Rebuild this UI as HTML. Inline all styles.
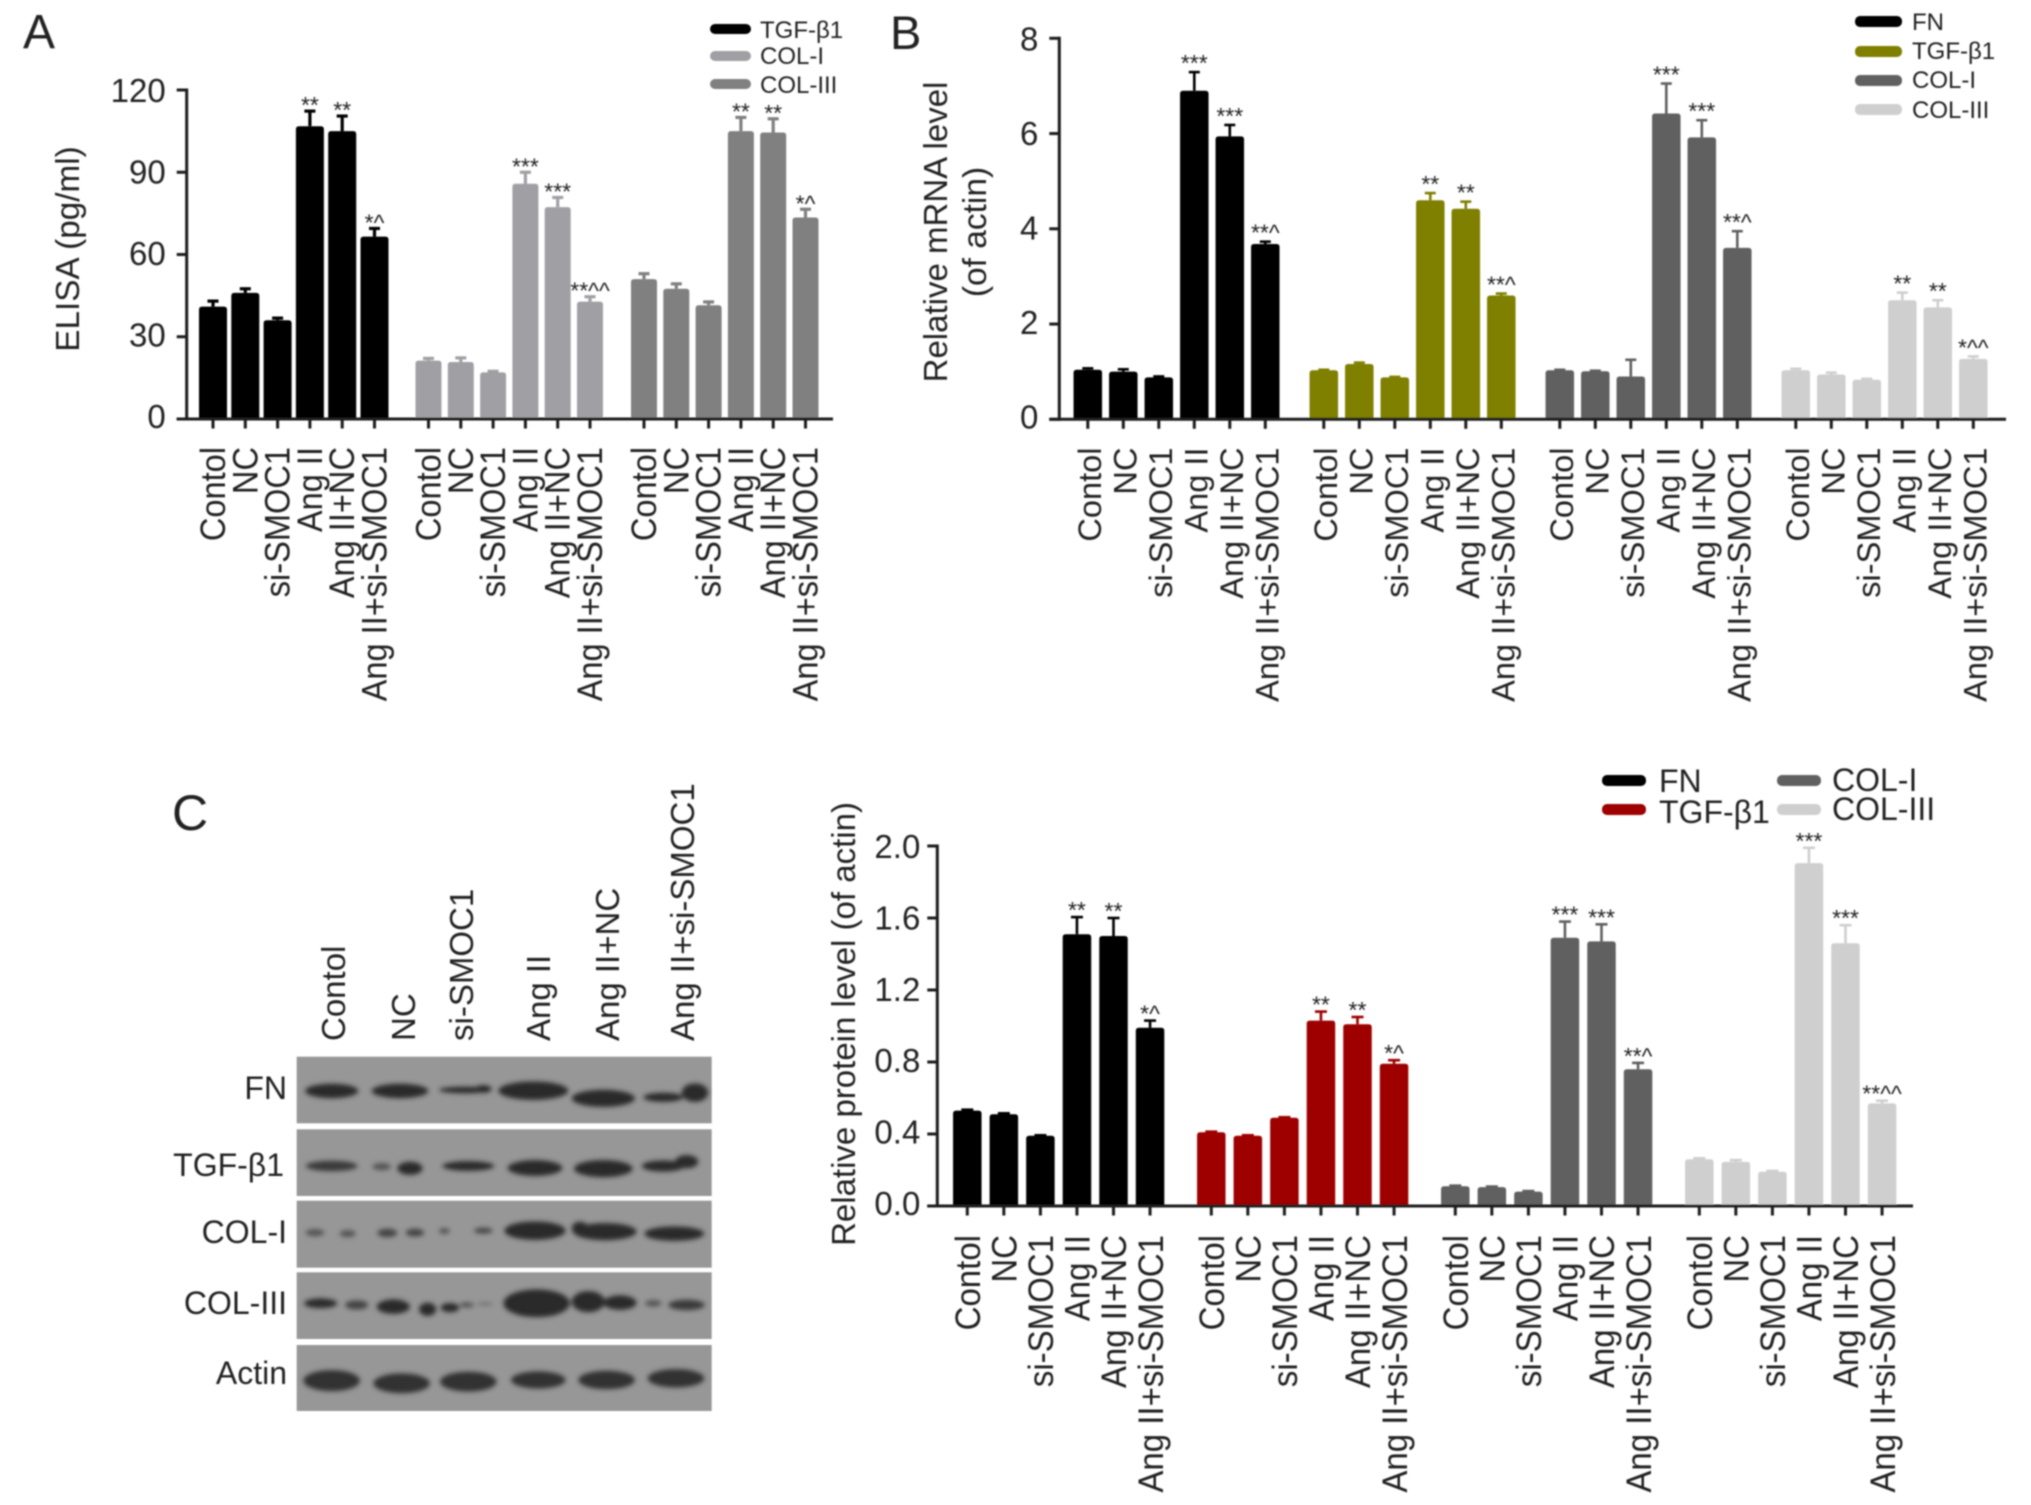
<!DOCTYPE html>
<html lang="en">
<head>
<meta charset="utf-8">
<title>SMOC1 knockdown ELISA, mRNA and protein levels</title>
<style>
html,body{margin:0;padding:0;background:#fff}
svg{display:block}
text{font-family:"Liberation Sans",Arial,sans-serif;fill:#222}
</style>
</head>
<body>
<svg id="figure" xmlns="http://www.w3.org/2000/svg" width="2031" height="1505" viewBox="0 0 2031 1505">
<defs>
<filter id="soft" x="-5%" y="-5%" width="110%" height="110%"><feGaussianBlur stdDeviation="0.8"/></filter>
<filter id="bandBlur" x="-30%" y="-60%" width="160%" height="220%"><feGaussianBlur stdDeviation="7"/></filter>
</defs>
<rect width="2031" height="1505" fill="#fff"/>

<g id="content" filter="url(#soft)">
<text x="23" y="48" font-size="48">A</text>
<text x="890" y="49" font-size="47">B</text>
<text x="172" y="830" font-size="50">C</text>

<text transform="translate(79 249) rotate(-90)" text-anchor="middle" font-size="33.3">ELISA (pg/ml)</text>
<text transform="translate(947 232) rotate(-90)" text-anchor="middle" font-size="33">Relative mRNA level</text>
<text transform="translate(986 232) rotate(-90)" text-anchor="middle" font-size="33.5">(of actin)</text>
<text transform="translate(855 1024) rotate(-90)" text-anchor="middle" font-size="33">Relative protein level (of actin)</text>

<g font-size="24">
<rect x="710" y="24" width="41" height="10" rx="5" fill="#000"/>
<text x="760" y="38">TGF-β1</text>
<rect x="710" y="51" width="41" height="10" rx="5" fill="#a0a0a4"/>
<text x="760" y="64">COL-I</text>
<rect x="710" y="79" width="41" height="10" rx="5" fill="#808080"/>
<text x="760" y="93">COL-III</text>
</g>
<g font-size="24">
<rect x="1855" y="16" width="47" height="11" rx="5" fill="#000"/>
<text x="1912" y="30">FN</text>
<rect x="1855" y="46" width="47" height="11" rx="5" fill="#7f7f00"/>
<text x="1912" y="59">TGF-β1</text>
<rect x="1855" y="75" width="47" height="11" rx="5" fill="#606060"/>
<text x="1912" y="88">COL-I</text>
<rect x="1855" y="104" width="47" height="11" rx="5" fill="#cfcfcf"/>
<text x="1912" y="118">COL-III</text>
</g>
<g font-size="32">
<rect x="1602" y="775" width="44" height="11" rx="5" fill="#000"/>
<text x="1659" y="792">FN</text>
<rect x="1602" y="804" width="44" height="11" rx="5" fill="#9e0000"/>
<text x="1659" y="823">TGF-β1</text>
<rect x="1777" y="775" width="44" height="11" rx="5" fill="#606060"/>
<text x="1832" y="791">COL-I</text>
<rect x="1777" y="804" width="44" height="11" rx="5" fill="#cfcfcf"/>
<text x="1832" y="820">COL-III</text>
</g>

<g>
<g font-size="33" text-anchor="start">
<text transform="translate(345 1041) rotate(-90)">Contol</text>
<text transform="translate(415 1041) rotate(-90)">NC</text>
<text transform="translate(473 1041) rotate(-90)">si-SMOC1</text>
<text transform="translate(550 1041) rotate(-90)">Ang II</text>
<text transform="translate(619 1041) rotate(-90)">Ang II+NC</text>
<text transform="translate(694 1041) rotate(-90)">Ang II+si-SMOC1</text>
</g>
<g font-size="32" text-anchor="end">
<text x="287" y="1099">FN</text>
<text x="284" y="1176">TGF-β1</text>
<text x="287" y="1243">COL-I</text>
<text x="287" y="1314">COL-III</text>
<text x="287" y="1384">Actin</text>
</g>
<g fill="#979797">
<rect x="296.7" y="1056.7" width="415" height="66.6"/>
<rect x="296.7" y="1129.3" width="415" height="66.7"/>
<rect x="296.7" y="1200.7" width="415" height="67"/>
<rect x="296.7" y="1272.3" width="415" height="66.7"/>
<rect x="296.7" y="1345" width="415" height="66"/>
</g>
<g transform="translate(280 1040) scale(0.3333)" fill="#2b2b2b" filter="url(#bandBlur)">
<g>
<ellipse cx="155" cy="153" rx="80" ry="22"/><ellipse cx="360" cy="153" rx="85" ry="22"/><ellipse cx="555" cy="150" rx="78" ry="10"/><ellipse cx="610" cy="147" rx="25" ry="12"/><ellipse cx="760" cy="152" rx="105" ry="28"/><ellipse cx="970" cy="175" rx="95" ry="26"/><ellipse cx="1150" cy="172" rx="60" ry="14"/><ellipse cx="1245" cy="158" rx="40" ry="28"/>
</g>
<g>
<ellipse cx="155" cy="378" rx="78" ry="16" fill="#3a3a3a"/><ellipse cx="305" cy="380" rx="28" ry="11" fill="#555"/><ellipse cx="390" cy="385" rx="38" ry="20"/><ellipse cx="565" cy="378" rx="78" ry="15"/><ellipse cx="765" cy="384" rx="82" ry="24"/><ellipse cx="970" cy="386" rx="88" ry="26"/><ellipse cx="1150" cy="378" rx="65" ry="17"/><ellipse cx="1220" cy="365" rx="35" ry="20"/>
</g>
<g>
<ellipse cx="105" cy="578" rx="28" ry="11" fill="#555"/><ellipse cx="203" cy="581" rx="24" ry="11" fill="#555"/><ellipse cx="322" cy="579" rx="30" ry="13" fill="#444"/><ellipse cx="405" cy="578" rx="28" ry="12" fill="#444"/><ellipse cx="493" cy="573" rx="17" ry="9" fill="#555"/><ellipse cx="610" cy="572" rx="28" ry="9" fill="#444"/><ellipse cx="765" cy="572" rx="92" ry="28"/><ellipse cx="975" cy="575" rx="95" ry="26"/><ellipse cx="900" cy="565" rx="25" ry="20"/><ellipse cx="1183" cy="581" rx="90" ry="22"/>
</g>
<g>
<ellipse cx="122" cy="790" rx="50" ry="15"/><ellipse cx="230" cy="795" rx="35" ry="14" fill="#444"/><ellipse cx="340" cy="800" rx="50" ry="22"/><ellipse cx="443" cy="808" rx="26" ry="20"/><ellipse cx="510" cy="803" rx="28" ry="14"/><ellipse cx="560" cy="795" rx="22" ry="8" fill="#555"/><ellipse cx="615" cy="792" rx="25" ry="4" fill="#666"/><ellipse cx="770" cy="790" rx="100" ry="42"/><ellipse cx="925" cy="785" rx="50" ry="32"/><ellipse cx="1020" cy="788" rx="50" ry="22"/><ellipse cx="1120" cy="790" rx="25" ry="10" fill="#555"/><ellipse cx="1220" cy="795" rx="55" ry="16" fill="#3a3a3a"/>
</g>
<g fill="#333">
<ellipse cx="155" cy="1022" rx="85" ry="32"/><ellipse cx="365" cy="1030" rx="85" ry="30"/><ellipse cx="565" cy="1025" rx="85" ry="30"/><ellipse cx="775" cy="1020" rx="82" ry="26"/><ellipse cx="980" cy="1020" rx="85" ry="28"/><ellipse cx="1188" cy="1015" rx="85" ry="28"/>
</g>
</g>
</g>
<g id="charts"></g>
</g>
</svg>

<script>
// ---- shared categories ----
const categories = ['Contol', 'NC', 'si-SMOC1', 'Ang II', 'Ang II+NC', 'Ang II+si-SMOC1'];

// ---- panel A: ELISA (pg/ml) ----
const panelATicks = [0, 30, 60, 90, 120];
const panelATickLabels = ['0', '30', '60', '90', '120'];
const panelATgfValues = [41, 46, 36, 106.8, 105, 66.5];
const panelATgfErrors = [2, 1.5, 0.8, 5.5, 5.5, 3];
const panelATgfMarks = ['', '', '', '**', '**', '*^'];
const panelACol1Values = [21.3, 20.8, 17, 85.8, 77.3, 42.8];
const panelACol1Errors = [0.8, 1.5, 0.4, 4.2, 3.5, 1.8];
const panelACol1Marks = ['', '', '', '***', '***', '**^^'];
const panelACol3Values = [51, 47.5, 41.5, 105, 104.5, 73.5];
const panelACol3Errors = [2, 1.8, 1.2, 5, 5, 3];
const panelACol3Marks = ['', '', '', '**', '**', '*^'];

// ---- panel B: relative mRNA level ----
const panelBTicks = [0, 2, 4, 6, 8];
const panelBTickLabels = ['0', '2', '4', '6', '8'];
const panelBFnValues = [1.04, 1.0, 0.88, 6.9, 5.94, 3.68];
const panelBFnErrors = [0.03, 0.05, 0.02, 0.39, 0.24, 0.05];
const panelBFnMarks = ['', '', '', '***', '***', '**^'];
const panelBTgfValues = [1.03, 1.16, 0.88, 4.6, 4.42, 2.6];
const panelBTgfErrors = [0.01, 0.03, 0.01, 0.15, 0.15, 0.04];
const panelBTgfMarks = ['', '', '', '**', '**', '**^'];
const panelBCol1Values = [1.03, 1.01, 0.9, 6.42, 5.92, 3.6];
const panelBCol1Errors = [0.01, 0.01, 0.35, 0.63, 0.36, 0.35];
const panelBCol1Marks = ['', '', '', '***', '***', '**^'];
const panelBCol3Values = [1.03, 0.94, 0.83, 2.5, 2.35, 1.27];
const panelBCol3Errors = [0.03, 0.04, 0.02, 0.16, 0.15, 0.05];
const panelBCol3Marks = ['', '', '', '**', '**', '*^^'];

// ---- panel C: relative protein level ----
const panelCTicks = [0, 0.4, 0.8, 1.2, 1.6, 2];
const panelCTickLabels = ['0.0', '0.4', '0.8', '1.2', '1.6', '2.0'];
const panelCFnValues = [0.53, 0.51, 0.39, 1.51, 1.5, 0.99];
const panelCFnErrors = [0.005, 0.005, 0.003, 0.095, 0.1, 0.04];
const panelCFnMarks = ['', '', '', '**', '**', '*^'];
const panelCTgfValues = [0.41, 0.39, 0.49, 1.03, 1.01, 0.79];
const panelCTgfErrors = [0.003, 0.003, 0.003, 0.05, 0.04, 0.02];
const panelCTgfMarks = ['', '', '', '**', '**', '*^'];
const panelCCol1Values = [0.11, 0.105, 0.08, 1.49, 1.47, 0.76];
const panelCCol1Errors = [0.003, 0.003, 0.003, 0.09, 0.095, 0.035];
const panelCCol1Marks = ['', '', '', '***', '***', '**^'];
const panelCCol3Values = [0.26, 0.245, 0.19, 1.905, 1.46, 0.57];
const panelCCol3Errors = [0.005, 0.01, 0.005, 0.085, 0.1, 0.015];
const panelCCol3Marks = ['', '', '', '***', '***', '**^^'];

const SVG_NS = 'http://www.w3.org/2000/svg';
const chartsRoot = document.getElementById('charts');

function make(tag, parent, attrs, text) {
  const node = document.createElementNS(SVG_NS, tag);
  Object.keys(attrs).forEach(function (k) { node.setAttribute(k, attrs[k]); });
  if (text !== undefined) node.textContent = text;
  parent.appendChild(node);
  return node;
}

function drawPanel(panel) {
  const group = make('g', chartsRoot, {});
  
  

  const yMax = panel.ticks[panel.ticks.length - 1];
  const yScale = function (v) { return panel.y0 - (v / yMax) * (panel.y0 - panel.yTop); };
  const xScale = function (s, c) { return panel.firstX + s * panel.groupStep + c * panel.barStep; };

  panel.series.forEach(function (series, s) {
    const seriesGroup = make('g', group, {});
    
    

    series.values.forEach(function (value, c) {
      const cx = xScale(s, c);
      const top = yScale(value);
      const errTop = yScale(value + series.errors[c]);

      const stem = make('line', seriesGroup, { x1: cx, x2: cx, y1: top, y2: errTop, stroke: series.color, 'stroke-width': panel.errWidth });
      
      

      const cap = make('line', seriesGroup, { x1: cx - panel.capHalf, x2: cx + panel.capHalf, y1: errTop, y2: errTop, stroke: series.color, 'stroke-width': panel.errWidth });
      
      

      const r = 3;
      const hw = (series.width || panel.barWidth) / 2;
      const bar = make('path', seriesGroup, {
        d: 'M' + (cx - hw) + ' ' + panel.y0 + 'V' + (top + r) + 'Q' + (cx - hw) + ' ' + top + ' ' + (cx - hw + r) + ' ' + top +
           'H' + (cx + hw - r) + 'Q' + (cx + hw) + ' ' + top + ' ' + (cx + hw) + ' ' + (top + r) + 'V' + panel.y0 + 'Z',
        fill: series.color
      });
      
      

      if (series.marks[c]) {
        const mark = make('text', seriesGroup, { x: cx, y: errTop + panel.markOffset, 'text-anchor': 'middle', 'font-size': 23 }, series.marks[c]);
        
        
      }

      const tick = make('line', group, { x1: cx, x2: cx, y1: panel.y0, y2: panel.y0 + 9.5, stroke: '#1c1c1c', 'stroke-width': 3 });
      
      

      const label = make('text', group, {
        transform: 'translate(' + (cx + panel.labelShift) + ' ' + panel.labelY + ') rotate(-90) scale(1 ' + panel.labelStretch + ')',
        'text-anchor': 'end',
        'font-size': panel.labelSize
      }, categories[c]);
      
      
    });
  });

  panel.ticks.forEach(function (t, i) {
    const y = yScale(t);
    const tick = make('line', group, { x1: panel.axisX - 10, x2: panel.axisX, y1: y, y2: y, stroke: '#1c1c1c', 'stroke-width': 3 });
    
    

    const label = make('text', group, { x: panel.axisX - panel.tickGap, y: y + 9 + 3 * (t / yMax), 'text-anchor': 'end', 'font-size': panel.tickSize }, panel.tickLabels[i]);
    
    
  });

  const yAxis = make('line', group, { x1: panel.axisX, x2: panel.axisX, y1: panel.yTop - 1.5, y2: panel.y0 + 1.5, stroke: '#1c1c1c', 'stroke-width': 3 });
  
  

  const xAxis = make('line', group, { x1: panel.axisX - 10, x2: panel.axisEnd, y1: panel.y0, y2: panel.y0, stroke: '#1c1c1c', 'stroke-width': 3 });
  
  
}

drawPanel({
  name: 'elisa-chart', ticks: panelATicks, tickLabels: panelATickLabels,
  axisX: 186.7, axisEnd: 833, y0: 419, yTop: 90,
  firstX: 213, barStep: 32.3, groupStep: 215.5, barWidth: 28, capHalf: 5.5, errWidth: 3.2,
  markOffset: 2, tickGap: 21,
  labelShift: 12, labelY: 447, labelSize: 32.6, labelStretch: 1.08, tickSize: 33,
  series: [
    { key: 'tgf', color: '#000', width: 28, values: panelATgfValues, errors: panelATgfErrors, marks: panelATgfMarks },
    { key: 'col-i', color: '#a0a0a4', width: 26, values: panelACol1Values, errors: panelACol1Errors, marks: panelACol1Marks },
    { key: 'col-iii', color: '#808080', width: 26, values: panelACol3Values, errors: panelACol3Errors, marks: panelACol3Marks }
  ]
});

drawPanel({
  name: 'mrna-chart', ticks: panelBTicks, tickLabels: panelBTickLabels,
  axisX: 1059.3, axisEnd: 2006, y0: 419.3, yTop: 38.3,
  firstX: 1087.8, barStep: 35.5, groupStep: 236, barWidth: 28.5, capHalf: 5.5, errWidth: 2.6,
  markOffset: -1, tickGap: 21,
  labelShift: 13, labelY: 447.5, labelSize: 32.6, labelStretch: 1, tickSize: 33,
  series: [
    { key: 'fn', color: '#000', values: panelBFnValues, errors: panelBFnErrors, marks: panelBFnMarks },
    { key: 'tgf', color: '#7f7f00', values: panelBTgfValues, errors: panelBTgfErrors, marks: panelBTgfMarks },
    { key: 'col-i', color: '#606060', values: panelBCol1Values, errors: panelBCol1Errors, marks: panelBCol1Marks },
    { key: 'col-iii', color: '#cfcfcf', values: panelBCol3Values, errors: panelBCol3Errors, marks: panelBCol3Marks }
  ]
});

drawPanel({
  name: 'protein-chart', ticks: panelCTicks, tickLabels: panelCTickLabels,
  axisX: 937.3, axisEnd: 1913, y0: 1206, yTop: 846,
  firstX: 967.3, barStep: 36.55, groupStep: 244, barWidth: 28.5, capHalf: 6, errWidth: 2.6,
  markOffset: 1, tickGap: 17,
  labelShift: 12.7, labelY: 1235, labelSize: 33, labelStretch: 1.06, tickSize: 33,
  series: [
    { key: 'fn', color: '#000', values: panelCFnValues, errors: panelCFnErrors, marks: panelCFnMarks },
    { key: 'tgf', color: '#9e0000', values: panelCTgfValues, errors: panelCTgfErrors, marks: panelCTgfMarks },
    { key: 'col-i', color: '#606060', values: panelCCol1Values, errors: panelCCol1Errors, marks: panelCCol1Marks },
    { key: 'col-iii', color: '#cfcfcf', values: panelCCol3Values, errors: panelCCol3Errors, marks: panelCCol3Marks }
  ]
});
</script>
</body>
</html>
